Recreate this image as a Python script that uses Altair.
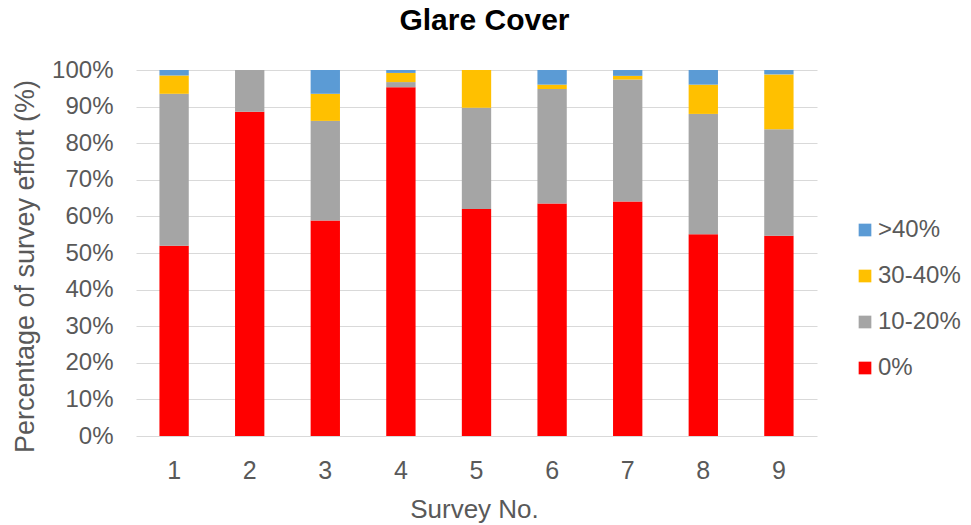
import altair as alt
import pandas as pd

surveys = ["1", "2", "3", "4", "5", "6", "7", "8", "9"]
categories = ["0%", "10-20%", "30-40%", ">40%"]
zero = [52.0, 88.6, 58.9, 95.3, 62.0, 63.5, 64.1, 55.1, 54.7]
ten_twenty = [41.5, 11.4, 27.2, 1.4, 27.7, 31.3, 33.3, 32.9, 29.1]
thirty_forty = [5.0, 0.0, 7.4, 2.5, 10.3, 1.2, 1.0, 8.0, 15.0]
over_forty = [1.5, 0.0, 6.5, 0.8, 0.0, 4.0, 1.6, 4.0, 1.2]
colors = ["#FF0000", "#A5A5A5", "#FFC000", "#5B9BD5"]

series = [zero, ten_twenty, thirty_forty, over_forty]
rows = []
for ci, (cat, vals) in enumerate(zip(categories, series)):
    for s, v in zip(surveys, vals):
        rows.append({"survey": s, "cover": cat, "value": v, "rank": ci})
df = pd.DataFrame(rows)

FONT = "Liberation Sans"
TXT = "#595959"

chart = alt.Chart(df).mark_bar().encode(
    x=alt.X("survey:N", sort=surveys,
            scale=alt.Scale(paddingInner=0.612, paddingOuter=0.31),
            axis=alt.Axis(title="Survey No.", labelAngle=0, ticks=False, tickSize=0,
                          domain=False, labelFontSize=25, labelColor=TXT, labelFont=FONT,
                          labelBaseline="alphabetic", labelPadding=42,
                          titleFontSize=26, titleFont=FONT, titleColor=TXT,
                          titleFontWeight="normal", titleBaseline="alphabetic",
                          titleX=338, titleY=81)),
    y=alt.Y("value:Q", stack=True,
            scale=alt.Scale(domain=[0, 100], nice=False),
            axis=alt.Axis(title="Percentage of survey effort (%)",
                          values=list(range(0, 101, 10)),
                          labelExpr="datum.value + '%'",
                          ticks=False, tickSize=0, domain=False,
                          grid=True, gridColor="#D9D9D9", gridWidth=1.2,
                          labelFontSize=24, labelColor=TXT, labelFont=FONT,
                          labelPadding=23,
                          titleFontSize=27, titleFont=FONT, titleColor=TXT,
                          titleFontWeight="normal", titleAngle=-90,
                          titleBaseline="middle", titleAlign="center",
                          titleX=-111, titleY=196)),
    color=alt.Color("cover:N",
                    scale=alt.Scale(domain=[">40%", "30-40%", "10-20%", "0%"],
                                    range=["#5B9BD5", "#FFC000", "#A5A5A5", "#FF0000"]),
                    legend=alt.Legend(title=None, orient="none", legendX=717, legendY=148,
                                      symbolType="square", symbolSize=161,
                                      symbolStrokeWidth=0, labelFontSize=24,
                                      labelFont=FONT, labelColor=TXT, labelOffset=1,
                                      rowPadding=22, padding=0)),
    order=alt.Order("rank:Q", sort="ascending"),
).properties(
    width=681, height=366,
    title=alt.TitleParams("Glare Cover", fontSize=30, font=FONT, fontWeight="bold",
                          color="#000000", anchor="middle", baseline="alphabetic",
                          offset=0, dy=2, dx=8),
    autosize=alt.AutoSizeParams(type="none"),
    padding={"left": 128, "top": 62, "right": 146, "bottom": 89},
).configure_view(stroke=None)

chart.save("out.html", embed_options={"renderer": "svg", "actions": False})
